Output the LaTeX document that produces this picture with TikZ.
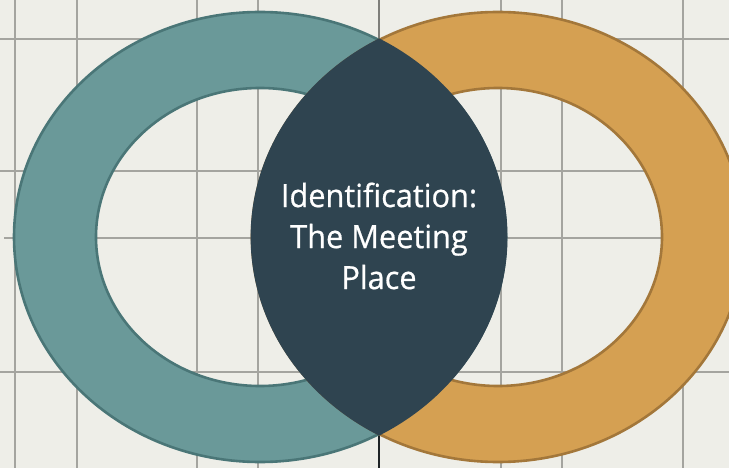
\documentclass[tikz,border=0pt]{standalone}
\usepackage{fontspec}
\newfontfamily\lensfont[FakeBold=0.6, FakeStretch=0.96]{Open Sans}
\definecolor{paper}{HTML}{EEEEE8}
\definecolor{gridgray}{HTML}{A4A49F}
\definecolor{axisgray}{HTML}{7E7E7A}
\definecolor{axisdark}{HTML}{1E2326}
\definecolor{tealfill}{HTML}{6A9999}
\definecolor{tealedge}{HTML}{4A7677}
\definecolor{ochrefill}{HTML}{D5A052}
\definecolor{ochreedge}{HTML}{A3773A}
\definecolor{slate}{HTML}{2F4450}
\tikzset{
    gridline/.style={draw=gridgray, line width=1.4pt},
    axisline/.style={line width=2pt},
    ringteal/.style={
        fill=tealfill, draw=tealedge, line width=2.6pt, even odd rule
    },
    ringochre/.style={
        fill=ochrefill, draw=ochreedge, line width=2.6pt, even odd rule
    },
    lens/.style={fill=slate, draw=slate, line width=2.8pt},
    caption/.style={
        text=white, align=center,
        font=\lensfont\fontsize{32}{41}\selectfont
    }
}

\begin{document}
\begin{tikzpicture}[x=1pt, y=-1pt]

% Paper
\fill[paper] (0,0) rectangle (729,468);
\useasboundingbox (0,0) rectangle (729,468);

% Grid
\foreach \gx in {15,77,197,258,501,562,683}
    \draw[gridline] (\gx,0) -- (\gx,468);
\foreach \gy in {39,171,372}
    \draw[gridline] (0,\gy) -- (729,\gy);
\draw[gridline] (4,238) -- (729,238);

% Ring centres and meeting points
\coordinate (tealc) at (260,237);
\coordinate (ochrec) at (498,237);
\coordinate (lenstop) at (379,38);
\coordinate (lensbot) at (379,433);

% Axis through the meeting place
\draw[axisline, draw=axisgray] (379,0) -- (lenstop);
\draw[axisline, draw=axisdark] (lensbot) -- (379,468);

% Rings
\path[ringteal] (tealc) ellipse [x radius=246, y radius=225]
                (tealc) ellipse [x radius=164, y radius=149];
\path[ringochre] (ochrec) ellipse [x radius=246, y radius=225]
                 (ochrec) ellipse [x radius=164, y radius=149];

% Overlap
\begin{scope}
    \clip (tealc) ellipse [x radius=247.5, y radius=226.5];
    \path[lens] (ochrec) ellipse [x radius=246, y radius=225];
\end{scope}

\node[caption] (meeting) at (379,236) {Identification:\\The Meeting\\Place};

\end{tikzpicture}
\end{document}
